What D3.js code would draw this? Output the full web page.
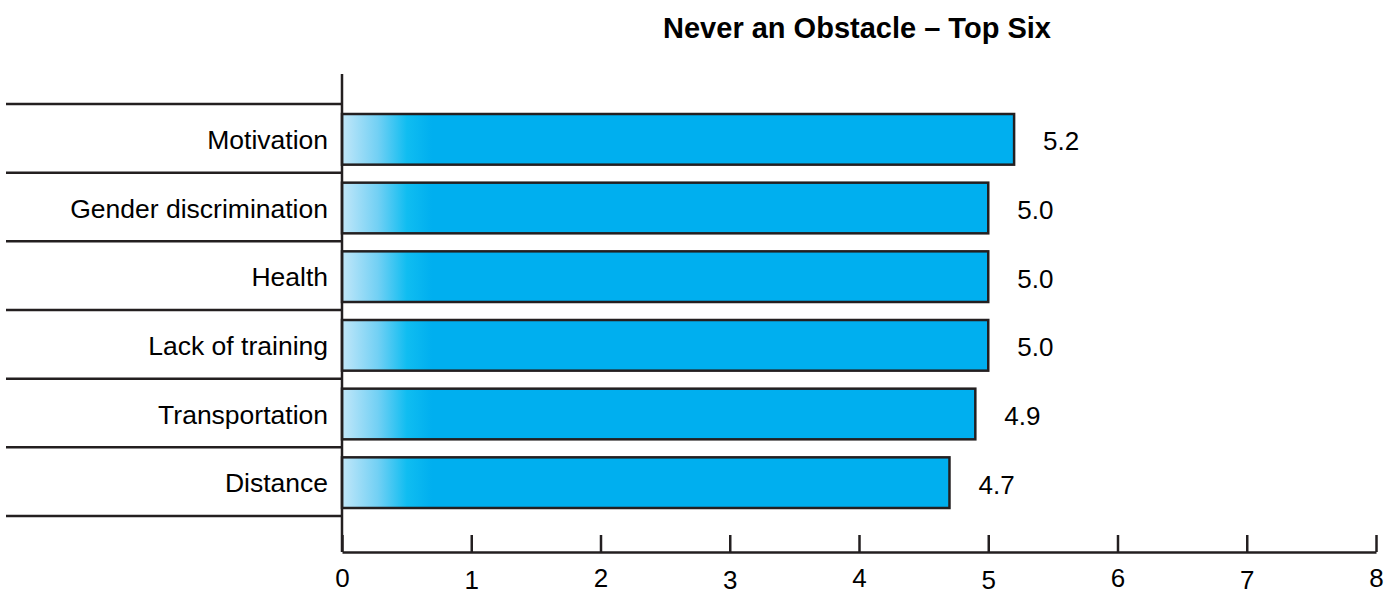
<!DOCTYPE html>
<html>
<head>
<meta charset="utf-8">
<script src="https://cdn.jsdelivr.net/npm/d3@7"></script>
<style>
  html, body { margin: 0; padding: 0; background: #fff; }
  svg { display: block; font-family: "Liberation Sans", Arial, sans-serif; }
</style>
</head>
<body>
<svg id="chart" width="1390" height="592"></svg>
<script>
// Chart data
const categories = ["Motivation", "Gender discrimination", "Health", "Lack of training", "Transportation", "Distance"];
const values = [5.2, 5.0, 5.0, 5.0, 4.9, 4.7];
const valueLabels = ["5.2", "5.0", "5.0", "5.0", "4.9", "4.7"];
const tickValues = [0, 1, 2, 3, 4, 5, 6, 7, 8];
const title = "Never an Obstacle \u2013 Top Six";

const svg = d3.select("#chart");
const ink = "#231f20";
const fontFamily = "\"Liberation Sans\", Arial, sans-serif";

const x = d3.scaleLinear().domain([0, 8]).range([342, 1376]);
const y = d3.scaleBand().domain(categories).range([104, 516]).paddingInner(0).paddingOuter(0);

// Gradient fading the left end of each bar; pad keeps the last colour to the bar end
const fadeLen = 90;
const grad = svg.append("defs").append("linearGradient")
  .attr("id", "barFade")
  .attr("gradientUnits", "userSpaceOnUse")
  .attr("spreadMethod", "pad")
  .attr("x1", x(0)).attr("x2", x(0) + fadeLen)
  .attr("y1", 0).attr("y2", 0);
grad.append("stop").attr("offset", 0).attr("stop-color", "#c2e7f9");
grad.append("stop").attr("offset", 0.4).attr("stop-color", "#72d0f4");
grad.append("stop").attr("offset", 0.72).attr("stop-color", "#10bdf1");
grad.append("stop").attr("offset", 1).attr("stop-color", "#00afef");

// Title
svg.append("text")
  .attr("x", 857).attr("y", 38)
  .attr("text-anchor", "middle")
  .attr("font-size", 29).attr("font-weight", "bold")
  .attr("fill", "#000")
  .text(title);

// Row separator lines on the category side
const seps = [...categories.map(c => y(c)), y.range()[1]];
svg.append("g").selectAll("line").data(seps).join("line")
  .attr("x1", 6).attr("x2", x(0))
  .attr("y1", d => d).attr("y2", d => d)
  .attr("stroke", ink).attr("stroke-width", 2.5);

// Bars
const barTop = 10, barBottom = 8;
svg.append("g").selectAll("rect").data(categories).join("rect")
  .attr("x", x(0))
  .attr("y", d => y(d) + barTop)
  .attr("width", (d, i) => x(values[i]) - x(0))
  .attr("height", y.bandwidth() - barTop - barBottom)
  .attr("fill", "url(#barFade)")
  .attr("stroke", ink).attr("stroke-width", 2.5);

const barMid = d => y(d) + barTop + (y.bandwidth() - barTop - barBottom) / 2;

// Category labels
svg.append("g").selectAll("text").data(categories).join("text")
  .attr("x", 328)
  .attr("y", d => barMid(d) + 9.5)
  .attr("text-anchor", "end")
  .attr("font-size", 26.5).attr("fill", "#000")
  .text(d => d);

// Value labels
svg.append("g").selectAll("text").data(categories).join("text")
  .attr("x", (d, i) => x(values[i]) + 29)
  .attr("y", d => barMid(d) + 11)
  .attr("font-size", 26).attr("fill", "#000")
  .text((d, i) => valueLabels[i]);

// Vertical axis line
svg.append("line")
  .attr("x1", x(0)).attr("x2", x(0))
  .attr("y1", 74).attr("y2", 552)
  .attr("stroke", ink).attr("stroke-width", 2.5);

// Value axis with upward ticks
const axis = svg.append("g")
  .attr("transform", "translate(0,552)")
  .call(d3.axisBottom(x).tickValues(tickValues).tickSizeInner(-17).tickSizeOuter(0).tickPadding(0).tickFormat(d3.format("d")));
axis.attr("font-size", 26).attr("font-family", fontFamily);
axis.select(".domain").attr("stroke", ink).attr("stroke-width", 2.5);
axis.selectAll(".tick line").attr("stroke", ink).attr("stroke-width", 2.5);
axis.selectAll(".tick text")
  .attr("y", d => (d % 2 === 0 ? 35 : 37)).attr("dy", 0)
  .attr("font-size", 26).attr("fill", "#000");
</script>
</body>
</html>
